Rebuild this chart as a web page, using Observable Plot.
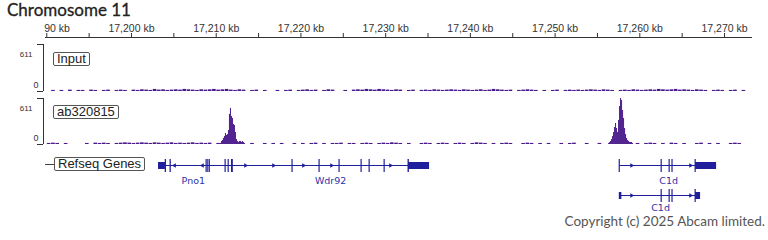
<!DOCTYPE html>
<html><head><meta charset="utf-8">
<script src="https://cdn.jsdelivr.net/npm/d3@7"></script>
<script src="https://cdn.jsdelivr.net/npm/@observablehq/plot@0.6"></script>
<style>
html,body{margin:0;padding:0;background:#fff;}
#wrap{position:relative;width:768px;height:240px;overflow:hidden;font-family:"Liberation Sans",Arial,sans-serif;}
#wrap svg{max-width:none !important;}
.abs{position:absolute;}
.tag{position:absolute;border:1px solid #555;border-radius:2px;font:13px "Liberation Sans",Arial,sans-serif;color:#222;line-height:12px;padding:0 3px;background:#fff;white-space:nowrap;}
</style>
</head><body>
<div id="wrap">
  <div class="abs" id="title" style="left:7px;top:0px;font:17px Lato,sans-serif;color:#222;line-height:20px;-webkit-text-stroke:0.3px #222;">Chromosome 11</div>
  <div class="abs" id="axis" style="left:44px;top:0;width:724px;height:40px;overflow:hidden;"></div>
  <div class="abs" id="t1" style="left:0;top:40px;"></div>
  <div class="abs" id="t2" style="left:0;top:94px;"></div>
  <div class="abs" id="genes" style="left:0;top:150px;"></div>
  <span class="tag" style="left:53px;top:52px;">Input</span>
  <span class="tag" style="left:53px;top:105px;">ab320815</span>
  <div class="abs" style="left:45px;top:164px;width:9px;height:1px;background:#444;"></div>
  <span class="tag" style="left:54px;top:157px;">Refseq Genes</span>
  <div class="abs" id="copy" style="right:3px;top:214px;font:13.5px Lato,sans-serif;color:#555;line-height:14px;">Copyright (c) 2025 Abcam limited.</div>
</div>
<script>
// ---- data ----
const chromosome = "Chromosome 11";
const xDomain = [17189.85, 17273.3];           // kb
const axisTicks = [17190,17195,17200,17205,17210,17215,17220,17225,17230,17235,17240,17245,17250,17255,17260,17265,17270];
const trackNames = ["Input", "ab320815"];
const trackMax = 611;

const binStart = 17190;   // kb, noise bins
const binSize = 0.5;      // kb
const inputNoise = [0,14,0,14,0,18,0,14,
  14,0,18,14,0,14,18,0,14,18,14,0,
  18,14,22,18,14,27,18,22,14,18,22,18,27,22,18,14,22,
  18,22,27,18,22,27,18,14,22,18,0,14,18,0,
  14,0,0,14,0,14,18,0,14,
  18,22,14,18,0,14,22,18,0,0,14,0,18,22,
  18,27,22,18,27,22,18,14,22,18,
  0,14,18,0,14,18,14,22,18,14,18,22,
  18,14,22,18,14,18,22,14,18,27,22,18,14,18,0,14,18,22,18,14,0,
  14,0,14,18,0,14,18,14,18,14,
  18,22,18,14,22,18,14,0,14,18,14,22,18,14,
  18,22,18,27,22,18,22,27,18,22,18,14,22,18,14,0,14,18,14,
  0,14,18,0,14,0,0];
const abNoise = [14,18,14,0,14,0,0,0,
  0,14,0,18,14,18,14,0,14,18,22,18,
  14,18,22,18,14,22,18,14,18,22,14,18,14,18,22,14,18,
  14,18,0,14,0,0,0,0,0,0,0,14,0,0,
  14,0,14,0,14,0,0,14,0,
  14,0,14,18,0,14,0,14,14,18,0,14,14,0,
  14,18,14,0,14,18,14,22,18,14,
  0,14,0,0,14,18,14,0,14,18,14,0,
  14,18,14,0,14,22,18,14,0,14,0,14,18,14,0,0,14,18,14,0,14,
  0,14,0,0,14,0,14,18,0,0,
  14,0,0,14,0,0,0,0,0,0,0,0,14,0,
  14,18,14,0,14,0,18,14,0,14,0,0,14,18,0,14,0,14,0,
  0,14,18,14,0,0,0];

const peakStep = 0.118;   // kb
const peak1Start = 17210.5;
const peak1 = [13,40,53,80,106,146,120,133,186,400,480,372,346,266,253,160,66,40,27,40,40,27,40,27,13];
const peak2Start = 17256.31;
const peak2 = [13,26,40,66,106,160,226,280,213,160,320,505,611,585,452,346,213,133,80,53,40,27,27,27,13];

const geneNames  = ["Pno1","Wdr92","C1d","C1d"];
const geneRow    = [0,0,0,1];
const geneStart  = [17203.19,17211.92,17257.61,17257.61];
const geneEnd    = [17211.92,17235.18,17269.06,17267.17];
const geneStrand = ["-","+","+","+"];
const geneLabelAt= [17207.3,17223.5,17263.4,17262.45];

const exonGene  = [0,0,0,0,0,0,0,0,0, 1,1,1,1,1,1,1,1, 2,2,2,2,2,2, 3,3,3,3,3,3];
const exonStart = [17203.19,17203.98,17204.55,17208.8,17209.0,17209.17,17211.04,17211.4,17211.8,
                   17218.94,17222.13,17224.49,17227.09,17228.04,17229.81,17232.64,17232.7,
                   17257.56,17262.51,17263.45,17263.79,17266.52,17266.58,
                   17257.58,17262.51,17263.45,17263.79,17266.52,17266.58];
const exonEnd   = [17204.01,17204.13,17204.7,17208.94,17209.12,17209.31,17211.18,17211.54,17212.02,
                   17219.08,17222.27,17224.63,17227.23,17228.18,17229.95,17232.8,17235.18,
                   17257.7,17262.65,17263.59,17263.93,17266.66,17269.06,
                   17257.88,17262.65,17263.59,17263.93,17266.66,17267.17];
const exonKind  = ["utr","cds","cds","cds","cds","cds","cds","cds","cds",
                   "cds","cds","cds","cds","cds","cds","cds","utr",
                   "cds","cds","cds","cds","cds","utr",
                   "utr","cds","cds","cds","cds","utr"];
const arrowGene = [0,0, 1,1,1,1,1, 2,2, 3,3];
const arrowPos  = [17205.08,17208.38, 17213.46,17216.76,17220.3,17223.61,17230.57, 17259.03,17265.99, 17259.03,17265.99];
const copyright = "Copyright (c) 2025 Abcam limited.";

// ---- styles ----
const sigColor = "#4a1a8c";
const geneColor = "#1f1f9e";
const labelColor = "#3030aa";
const W = 768, xRange = [45, 752];

// axis
const axisPlot = Plot.plot({
  width: W, height: 40, marginLeft: 45, marginRight: 16, marginTop: 37, marginBottom: 2,
  x: {domain: xDomain},
  y: {domain: [0,1], axis: null},
  style: {fontFamily: "'Liberation Sans', Arial, sans-serif", color: "#333", overflow: "visible", maxWidth: "none"},
  marks: [
    Plot.axisX({anchor: "top", ticks: axisTicks, tickSize: 5, tickPadding: 1, fontSize: 10.5, label: null,
      tickFormat: d => d % 10 === 0 ? d3.format(",")(d) + " kb" : "", stroke: "#333"}),
    Plot.ruleY([1], {stroke: "#333"})
  ]
});
axisPlot.style.marginLeft = "-44px";
document.getElementById("axis").append(axisPlot);

function bins(start, step, arr) { return arr.map((v,i) => ({x1: start + i*step, x2: start + (i+1)*step, v})); }

function track(noise, peaks, mb) {
  const noiseData = bins(binStart, binSize, noise).filter(d => d.v > 0);
  const peakData = peaks.flatMap(([s, arr]) => bins(s, peakStep, arr));
  return Plot.plot({
    width: W, height: 54, marginLeft: 43, marginRight: 16, marginTop: 4, marginBottom: mb,
    x: {domain: xDomain, range: xRange, axis: null},
    y: {domain: [0, trackMax], axis: null},
    style: {fontFamily: "'Liberation Sans', Arial, sans-serif", color: "#333", overflow: "visible", maxWidth: "none"},
    marks: [
      Plot.rectY(noiseData, {x1: "x1", x2: "x2", y: "v", fill: sigColor, insetLeft: 0.6, clip: true}),
      Plot.rectY(peakData, {x1: "x1", x2: "x2", y: "v", fill: sigColor, clip: true}),
      Plot.axisY({anchor: "left", ticks: [0, trackMax], tickSize: 6, tickFormat: () => "", label: null, stroke: "#333"}),
      Plot.ruleX([xDomain[0]], {dx: -2, stroke: "#333"}),
      Plot.text([trackMax], {y: d => d, frameAnchor: "left", dx: -11, dy: 10, textAnchor: "end", fontSize: 8, fill: "#333"}),
      Plot.text([0], {y: d => d, frameAnchor: "left", dx: -5, dy: -6, textAnchor: "end", fontSize: 9, fill: "#333"})
    ]
  });
}
document.getElementById("t1").append(track(inputNoise, [], 3));
document.getElementById("t2").append(track(abNoise, [[peak1Start, peak1], [peak2Start, peak2]], 4));

// genes
const genes = geneNames.map((n,i) => ({name: n, row: geneRow[i], start: geneStart[i], end: geneEnd[i], strand: geneStrand[i], lab: geneLabelAt[i]}));
const exons = exonGene.map((g,i) => ({row: geneRow[g], x1: exonStart[i], x2: exonEnd[i], kind: exonKind[i]}));
const arrows = arrowGene.map((g,i) => ({row: geneRow[g], x: arrowPos[i], strand: geneStrand[g]}));
const genePlot = Plot.plot({
  width: W, height: 70, marginLeft: 43, marginRight: 16, marginTop: 0, marginBottom: 10,
  x: {domain: xDomain, range: xRange, axis: null},
  y: {type: "band", domain: [0,1], padding: 0, axis: null},
  style: {fontFamily: "'DejaVu Sans', sans-serif", overflow: "visible", maxWidth: "none"},
  marks: [
    Plot.ruleY(genes, {y: "row", x1: "start", x2: "end", stroke: geneColor, strokeWidth: 1.2}),
    Plot.barX(exons.filter(d => d.kind === "cds"), {x1: "x1", x2: "x2", y: "row", fill: geneColor, insetTop: 9, insetBottom: 8}),
    Plot.barX(exons.filter(d => d.kind === "utr"), {x1: "x1", x2: "x2", y: "row", fill: geneColor, insetTop: 12, insetBottom: 11}),
    Plot.dot(arrows, {x: "x", y: "row", symbol: "triangle", r: 1.7, fill: geneColor, rotate: d => d.strand === "+" ? 90 : -90}),
    Plot.text(genes.filter(d => d.row === 0), {x: "lab", y: "row", text: "name", dy: 15, fontSize: 9.5, fill: labelColor}),
    Plot.text(genes.filter(d => d.row === 1), {x: "lab", y: "row", text: "name", dy: 12.5, fontSize: 9.5, fill: labelColor})
  ]
});
document.getElementById("genes").append(genePlot);
</script>
</body></html>
